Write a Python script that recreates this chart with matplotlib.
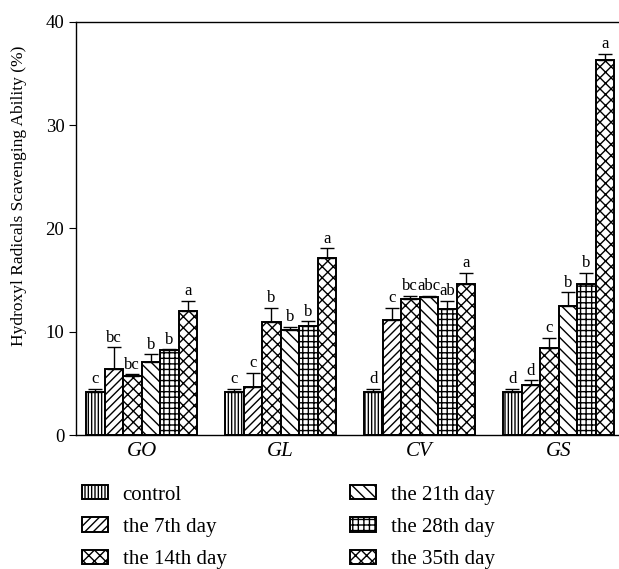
import numpy as np
import matplotlib
matplotlib.use("Agg")
from matplotlib import pyplot as plt

plt.rcParams['font.family'] = ['Liberation Serif', 'DejaVu Serif']
plt.rcParams['hatch.linewidth'] = 1.0

# datos
groups = ['GO', 'GL', 'CV', 'GS']
series = ['control', 'the 7th day', 'the 14th day',
          'the 21th day', 'the 28th day', 'the 35th day']
control = [4.2, 4.2, 4.2, 4.2]
day7 = [6.4, 4.6, 11.1, 4.8]
day14 = [5.7, 10.9, 13.2, 8.4]
day21 = [7.1, 10.2, 13.4, 12.5]
day28 = [8.2, 10.6, 12.2, 14.6]
day35 = [12.0, 17.1, 14.6, 36.3]
err_control = [0.3, 0.3, 0.3, 0.3]
err_day7 = [2.1, 1.4, 1.2, 0.5]
err_day14 = [0.2, 1.4, 0.3, 1.0]
err_day21 = [0.7, 0.3, 0.1, 1.3]
err_day28 = [0.1, 0.4, 0.8, 1.1]
err_day35 = [1.0, 1.0, 1.1, 0.6]
letters_GO = ['c', 'bc', 'bc', 'b', 'b', 'a']
letters_GL = ['c', 'c', 'b', 'b', 'b', 'a']
letters_CV = ['d', 'c', 'bc', 'abc', 'ab', 'a']
letters_GS = ['d', 'd', 'c', 'b', 'b', 'a']

values = [control, day7, day14, day21, day28, day35]
errors = [err_control, err_day7, err_day14, err_day21, err_day28, err_day35]
letters = [letters_GO, letters_GL, letters_CV, letters_GS]
hatches = ['|||||', '////', 'xxx', '\\\\\\', '+++', 'xxx']

fig = plt.figure(figsize=(6.19, 5.69), dpi=100)
ax = fig.add_axes([0.123, 0.2355, 0.877, 0.726])

x = np.arange(len(groups))
w = 0.133
for k in range(6):
    pos = x + (k - 2.5) * w
    ax.bar(pos, values[k], w, color='white', edgecolor='black',
           linewidth=1.4, hatch=hatches[k], label=series[k], zorder=2)
    ax.errorbar(pos, values[k], yerr=[np.zeros(4), errors[k]], fmt='none',
                ecolor='black', elinewidth=1.0, capsize=5, capthick=1.0, zorder=3)
    for i in range(len(groups)):
        ax.text(pos[i], values[k][i] + errors[k][i] + 0.15, letters[i][k],
                ha='center', va='bottom', fontsize=12)

ax.set_xlim(-0.471, 3.435)
ax.set_ylim(0, 40)
ax.set_yticks([0, 10, 20, 30, 40])
ax.set_xticks(x)
ax.set_xticklabels(groups, style='italic', fontsize=15)
ax.tick_params(axis='x', length=0, pad=5)
ax.tick_params(axis='y', direction='out', length=5, labelsize=13.5, width=0.8)
ax.spines['right'].set_visible(False)
for s in ['left', 'bottom', 'top']:
    ax.spines[s].set_linewidth(1.0)
ax.set_ylabel('Hydroxyl Radicals Scavenging Ability (%)', fontsize=12.5)
ax.yaxis.set_label_coords(-0.09, 0.58)

fig.legend(loc='upper left', bbox_to_anchor=(0.119, 0.162), ncol=2,
           frameon=False, fontsize=15, handlelength=1.25, handleheight=0.67,
           handletextpad=0.7, labelspacing=0.62, columnspacing=5.95,
           borderaxespad=0)

fig.savefig('out.png', dpi=100)
